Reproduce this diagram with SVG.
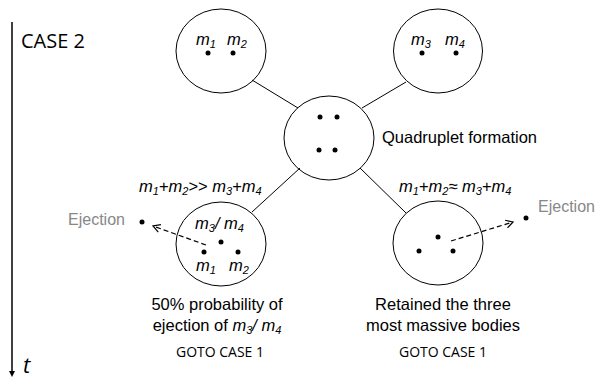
<svg xmlns="http://www.w3.org/2000/svg" width="598" height="379" viewBox="0 0 598 379">
<style>
.c{fill:#fff;stroke:#000;stroke-width:1}
.d{fill:#000}
.t{font-family:"Liberation Sans",Arial,sans-serif;font-size:16.5px;fill:#000}
.m{font-family:"Liberation Sans",Arial,sans-serif;font-size:16.5px;fill:#000}
.i{font-style:italic}
.g{font-family:"Liberation Sans",Arial,sans-serif;font-size:16px;fill:#888}
.o{font-family:"Open Sans","DejaVu Sans",sans-serif;fill:#000}
.ln{stroke:#000;stroke-width:1;fill:none}
.ds{stroke:#000;stroke-width:1.2;fill:none;stroke-dasharray:5 3}
</style>
<defs>
<marker id="open" markerWidth="10" markerHeight="10" refX="8" refY="5" orient="auto" markerUnits="userSpaceOnUse">
<path d="M1,1 L8,5 L1,9" fill="none" stroke="#000" stroke-width="1.2"/>
</marker>
</defs>
<g id="timeline">
<line x1="12" y1="22" x2="12" y2="371" stroke="#000" stroke-width="1.5"/>
<path d="M9,371 L15,371 L12,377 Z" fill="#000"/>
<text class="o" x="21" y="48" font-size="20">CASE 2</text>
<text class="o" x="23" y="373" font-size="22" font-style="italic">t</text>
</g>
<g id="pair12">
<ellipse class="c" cx="221" cy="51" rx="45" ry="42"/>
<circle class="d" cx="208" cy="53" r="2.5"/>
<circle class="d" cx="233" cy="53" r="2.5"/>
<text class="m i" x="196" y="45">m<tspan font-size="11" dy="3">1</tspan></text>
<text class="m i" x="227" y="45">m<tspan font-size="11" dy="3">2</tspan></text>
</g>
<g id="pair34">
<ellipse class="c" cx="438" cy="51" rx="44.5" ry="42"/>
<circle class="d" cx="422" cy="53" r="2.5"/>
<circle class="d" cx="456" cy="53" r="2.5"/>
<text class="m i" x="411" y="45">m<tspan font-size="11" dy="3">3</tspan></text>
<text class="m i" x="445" y="45">m<tspan font-size="11" dy="3">4</tspan></text>
</g>
<g id="quadruplet">
<ellipse class="c" cx="329" cy="138" rx="45" ry="42"/>
<circle class="d" cx="320" cy="117" r="2.5"/>
<circle class="d" cx="337" cy="117" r="2.5"/>
<circle class="d" cx="319" cy="150" r="2.5"/>
<circle class="d" cx="335" cy="150" r="2.5"/>
<text class="t" x="382" y="143">Quadruplet formation</text>
</g>
<g id="outcome-left">
<ellipse class="c" cx="221" cy="244" rx="45" ry="42"/>
<circle class="d" cx="221" cy="242" r="2.5"/>
<circle class="d" cx="204" cy="252" r="2.5"/>
<circle class="d" cx="238" cy="252" r="2.5"/>
<text class="m i" x="139" y="192">m<tspan font-size="11" dy="3">1</tspan><tspan dy="-3" font-style="normal">+</tspan>m<tspan font-size="11" dy="3">2</tspan><tspan dy="-3" font-style="normal">&gt;&gt; </tspan>m<tspan font-size="11" dy="3">3</tspan><tspan dy="-3" font-style="normal">+</tspan>m<tspan font-size="11" dy="3">4</tspan></text>
<text class="m i" x="195" y="229">m<tspan font-size="11" dy="3">3</tspan><tspan dy="-3">/ m</tspan><tspan font-size="11" dy="3">4</tspan></text>
<text class="m i" x="196" y="271">m<tspan font-size="11" dy="3">1</tspan></text>
<text class="m i" x="229" y="271">m<tspan font-size="11" dy="3">2</tspan></text>
<circle class="d" cx="142" cy="222" r="2.5"/>
<text class="g" x="68" y="225">Ejection</text>
<text class="t" x="217" y="310" text-anchor="middle">50% probability of</text>
<text class="t" x="217" y="331" text-anchor="middle">ejection of <tspan font-style="italic">m</tspan><tspan font-style="italic" font-size="11" dy="3">3</tspan><tspan font-style="italic" dy="-3">/ m</tspan><tspan font-style="italic" font-size="11" dy="3">4</tspan></text>
<text class="o" x="220" y="357" font-size="14" text-anchor="middle">GOTO CASE 1</text>
</g>
<g id="outcome-right">
<ellipse class="c" cx="438" cy="243" rx="45" ry="42"/>
<circle class="d" cx="438" cy="237" r="2.5"/>
<circle class="d" cx="419" cy="251" r="2.5"/>
<circle class="d" cx="453" cy="251" r="2.5"/>
<text class="m i" x="399" y="192">m<tspan font-size="11" dy="3">1</tspan><tspan dy="-3" font-style="normal">+</tspan>m<tspan font-size="11" dy="3">2</tspan><tspan dy="-3" font-style="normal">≈ </tspan>m<tspan font-size="11" dy="3">3</tspan><tspan dy="-3" font-style="normal">+</tspan>m<tspan font-size="11" dy="3">4</tspan></text>
<circle class="d" cx="526" cy="218" r="2.5"/>
<text class="g" x="538" y="212">Ejection</text>
<text class="t" x="443" y="310" text-anchor="middle">Retained the three</text>
<text class="t" x="443" y="331" text-anchor="middle">most massive bodies</text>
<text class="o" x="443" y="357" font-size="14" text-anchor="middle">GOTO CASE 1</text>
</g>
<g id="connectors">
<line class="ln" x1="252" y1="80" x2="298" y2="108"/>
<line class="ln" x1="406" y1="82" x2="362" y2="108"/>
<line class="ln" x1="300" y1="168" x2="252" y2="212"/>
<line class="ln" x1="360" y1="168" x2="406" y2="213"/>
<line class="ds" x1="206" y1="245" x2="153" y2="226" marker-end="url(#open)"/>
<line class="ds" x1="451" y1="241" x2="513" y2="222" marker-end="url(#open)"/>
</g>
</svg>
